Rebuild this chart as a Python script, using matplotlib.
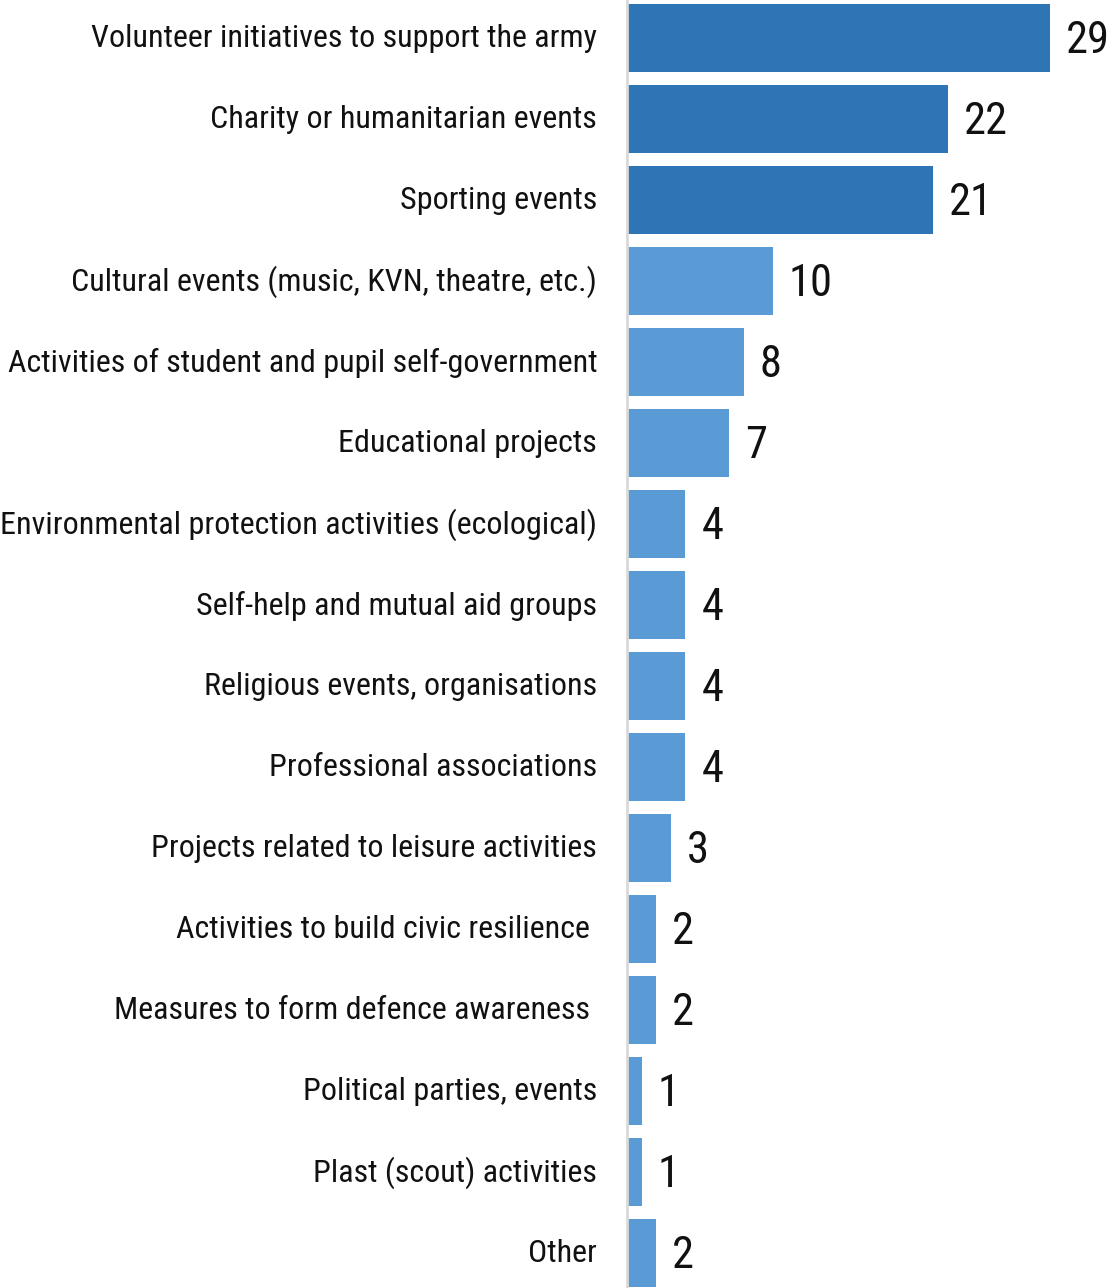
import matplotlib
matplotlib.use("Agg")
import matplotlib.pyplot as plt
import matplotlib.transforms as mtransforms

plt.rcParams["font.family"] = ["Roboto Condensed", "DejaVu Sans"]

categories = [
    "Volunteer initiatives to support the army",
    "Charity or humanitarian events",
    "Sporting events",
    "Cultural events (music, KVN, theatre, etc.)",
    "Activities of student and pupil self-government",
    "Educational projects",
    "Environmental protection activities (ecological)",
    "Self-help and mutual aid groups",
    "Religious events, organisations",
    "Professional associations",
    "Projects related to leisure activities",
    "Activities to build civic resilience ",
    "Measures to form defence awareness ",
    "Political parties, events",
    "Plast (scout) activities",
    "Other",
]
values = [29, 22, 21, 10, 8, 7, 4, 4, 4, 4, 3, 2, 2, 1, 1, 2]
n_highlight = 3

DARK = "#2E75B6"
LIGHT = "#5B9BD5"
colors = [DARK if i < n_highlight else LIGHT for i in range(len(values))]

fig = plt.figure(figsize=(11.08, 12.88), dpi=100)
W, H = 1108, 1288
ax = fig.add_axes([627 / W, 0, 1 - 627 / W, 1])

pitch = 81.0
ypos = list(range(len(values)))
ax.barh(ypos, values, height=68 / pitch, color=colors, linewidth=0)

ax.set_ylim((H - 38) / pitch, -38 / pitch)
ax.set_xlim(0, (W - 627) / (423 / 29))

ax.set_yticks(ypos)
ax.set_yticklabels(categories, fontsize=23, color="#111111")
ax.tick_params(axis="y", length=0, pad=21.5)
ax.set_xticks([])

# nudge category labels up a little
shift = mtransforms.ScaledTranslation(0, 2.5 / 100, fig.dpi_scale_trans)
for lbl in ax.get_yticklabels():
    lbl.set_transform(lbl.get_transform() + shift)

for s in ["top", "right", "bottom"]:
    ax.spines[s].set_visible(False)
ax.spines["left"].set_color("#D9D9D9")
ax.spines["left"].set_linewidth(2)

for y, v in zip(ypos, values):
    ax.annotate(str(v), (v, y), xytext=(16, -3), textcoords="offset pixels",
                va="center", ha="left", fontsize=32, color="#111111")

fig.savefig("out.png", dpi=100)
